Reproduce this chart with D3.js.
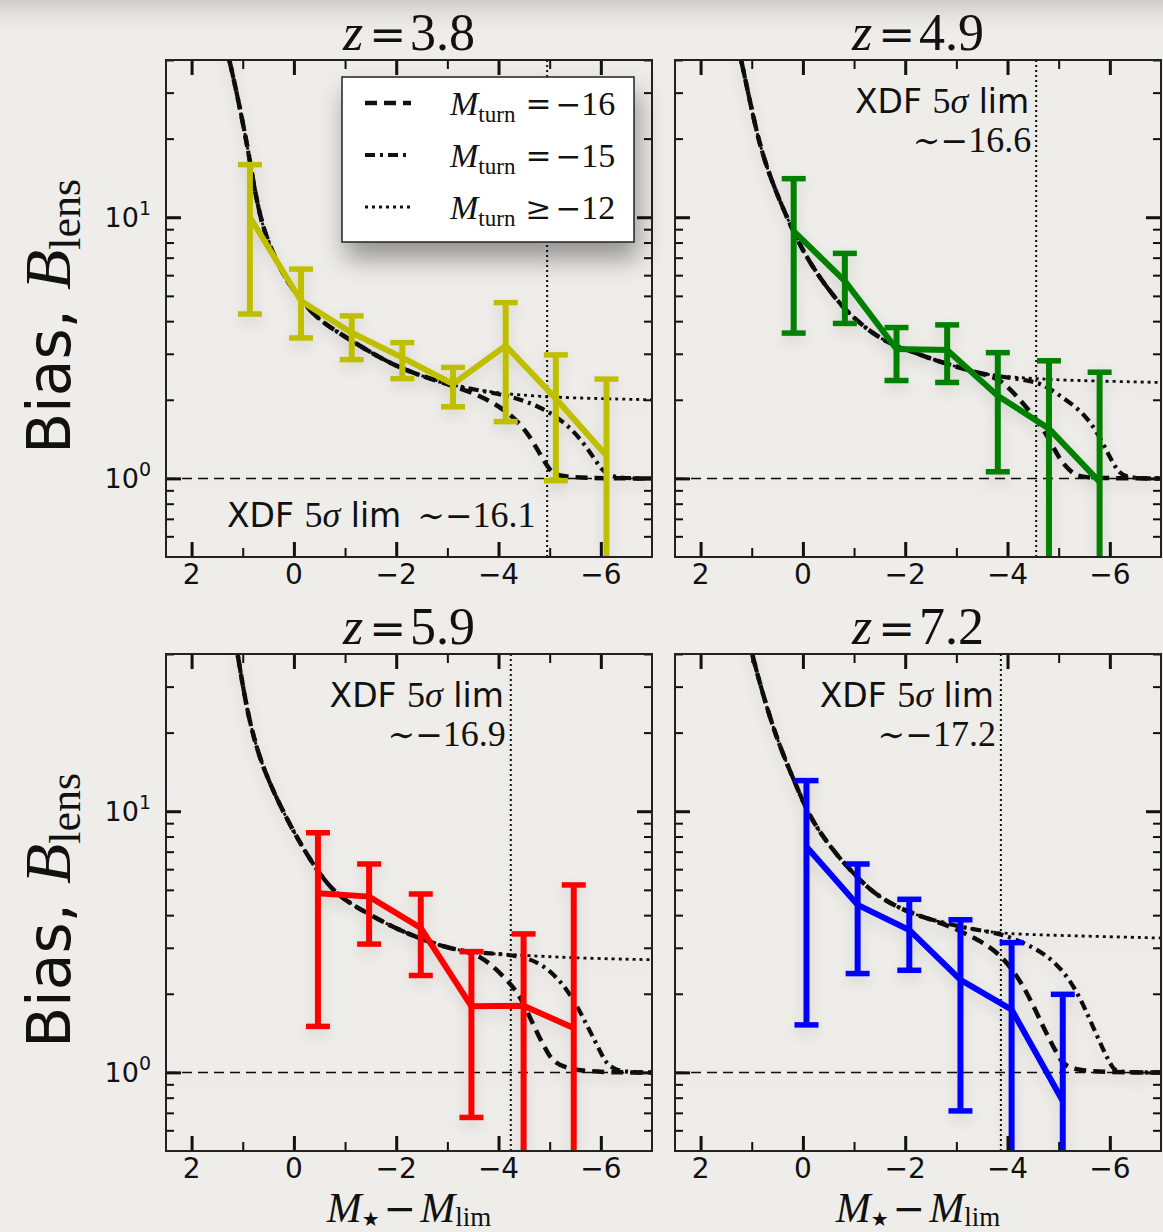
<!DOCTYPE html>
<html><head><meta charset="utf-8">
<script src="https://cdn.jsdelivr.net/npm/d3@7"></script>
<style>
html,body{margin:0;padding:0;background:#eeede9;}
svg{display:block}
</style></head><body>
<svg id="c" width="1163" height="1232"></svg>
<script>
// ================= DATA =================
const redshifts = ["3.8", "4.9", "5.9", "7.2"];
const xdfLimitX = [-4.95, -4.56, -4.24, -3.87];
const xdfLimitMag = ["16.1", "16.6", "16.9", "17.2"];

const xMajorTicks = [2, 0, -2, -4, -6];
const xMinorTicks = [1, -1, -3, -5];
const yMajorTicks = [1, 10];
const yMajorExp = ["0", "1"];
const yMinorTicks = [0.6, 0.7, 0.8, 0.9, 2, 3, 4, 5, 6, 7, 8, 9, 20, 30, 40];

const legendOps = ["=", "=", "\u2265"];
const legendVals = ["16", "15", "12"];

// z = 3.8 measurements
const z38_x  = [0.86, -0.14, -1.13, -2.12, -3.11, -4.14, -5.12, -6.11];
const z38_b  = [10.0, 4.78, 3.61, 2.90, 2.30, 3.22, 2.02, 1.22];
const z38_lo = [4.26, 3.45, 2.85, 2.41, 1.88, 1.65, 0.98, 0.2];
const z38_hi = [15.9, 6.33, 4.19, 3.31, 2.66, 4.71, 2.97, 2.40];
// z = 4.9
const z49_x  = [0.18, -0.82, -1.83, -2.82, -3.81, -4.81, -5.80];
const z49_b  = [8.85, 5.70, 3.13, 3.10, 2.07, 1.55, 0.97];
const z49_lo = [3.60, 3.92, 2.37, 2.33, 1.06, 0.2, 0.2];
const z49_hi = [14.05, 7.27, 3.78, 3.87, 3.03, 2.82, 2.55];
// z = 5.9
const z59_x  = [-0.47, -1.47, -2.48, -3.47, -4.49, -5.47];
const z59_b  = [4.85, 4.71, 3.57, 1.79, 1.80, 1.48];
const z59_lo = [1.50, 3.10, 2.35, 0.672, 0.2, 0.2];
const z59_hi = [8.27, 6.28, 4.82, 2.90, 3.39, 5.22];
// z = 7.2
const z72_x  = [-0.07, -1.07, -2.08, -3.08, -4.08, -5.08];
const z72_b  = [7.31, 4.38, 3.51, 2.26, 1.74, 0.777];
const z72_lo = [1.52, 2.39, 2.46, 0.712, 0.2, 0.2];
const z72_hi = [13.1, 6.28, 4.60, 3.84, 3.14, 1.99];

// model curves [x, B]
const z38_turn16 = [[1.45,55],[1.25,40],[0.92,19.5],[0.80,13.8],[0.66,10],[0.50,8.0],[0.35,6.9],[0.20,6.0],[0.02,5.3],[-0.18,4.7],[-0.51,4.0],[-1.04,3.45],[-1.54,3.0],[-2.07,2.65],[-2.60,2.43],[-3.11,2.26],[-3.63,2.08],[-4.16,1.82],[-4.55,1.52],[-4.80,1.25],[-5.0,1.07],[-5.2,1.0],[-7,1.0]];
const z38_turn15 = [[1.45,55],[1.25,40],[0.92,19.5],[0.80,13.8],[0.66,10],[0.50,8.0],[0.35,6.9],[0.20,6.0],[0.02,5.3],[-0.18,4.7],[-0.51,4.0],[-1.04,3.45],[-1.54,3.0],[-2.07,2.65],[-2.60,2.43],[-3.11,2.26],[-3.89,2.13],[-4.55,1.99],[-5.2,1.71],[-5.64,1.40],[-5.98,1.10],[-6.17,1.0],[-7,1.0]];
const z38_turn12 = [[1.45,55],[1.25,40],[0.92,19.5],[0.80,13.8],[0.66,10],[0.50,8.0],[0.35,6.9],[0.20,6.0],[0.02,5.3],[-0.18,4.7],[-0.51,4.0],[-1.04,3.45],[-1.54,3.0],[-2.07,2.65],[-2.60,2.43],[-3.11,2.26],[-3.89,2.13],[-4.94,2.04],[-7,2.0]];

const z49_turn16 = [[1.38,55],[1.20,40],[0.90,20.5],[0.64,14.1],[0.20,8.85],[-0.14,6.62],[-0.66,4.78],[-1.05,4.01],[-1.56,3.36],[-2.09,3.08],[-2.61,2.82],[-3.13,2.63],[-3.65,2.47],[-3.91,2.37],[-4.43,1.82],[-4.76,1.49],[-5.02,1.17],[-5.28,1.04],[-5.47,1.0],[-7,1.0]];
const z49_turn15 = [[1.38,55],[1.20,40],[0.90,20.5],[0.64,14.1],[0.20,8.85],[-0.14,6.62],[-0.66,4.78],[-1.05,4.01],[-1.56,3.36],[-2.09,3.08],[-2.61,2.82],[-3.13,2.63],[-3.65,2.47],[-4.56,2.37],[-4.88,2.17],[-5.54,1.77],[-5.87,1.36],[-6.13,1.07],[-6.32,1.0],[-7,1.0]];
const z49_turn12 = [[1.38,55],[1.20,40],[0.90,20.5],[0.64,14.1],[0.20,8.85],[-0.14,6.62],[-0.66,4.78],[-1.05,4.01],[-1.56,3.36],[-2.09,3.08],[-2.61,2.82],[-3.13,2.63],[-3.65,2.47],[-4.56,2.41],[-5.21,2.37],[-7,2.33]];

const z59_turn16 = [[1.22,55],[1.10,40],[0.90,23],[0.64,15.2],[0.32,11.0],[-0.01,8.22],[-0.40,6.13],[-0.79,4.85],[-1.31,4.19],[-1.96,3.57],[-2.61,3.17],[-3.13,2.95],[-3.65,2.84],[-4.17,2.26],[-4.43,1.96],[-4.69,1.50],[-4.95,1.19],[-5.21,1.0],[-7,1.0]];
const z59_turn15 = [[1.22,55],[1.10,40],[0.90,23],[0.64,15.2],[0.32,11.0],[-0.01,8.22],[-0.40,6.13],[-0.79,4.85],[-1.31,4.19],[-1.96,3.57],[-2.61,3.17],[-3.13,2.95],[-3.65,2.86],[-4.43,2.82],[-4.95,2.55],[-5.41,2.01],[-5.74,1.50],[-6.0,1.19],[-6.19,1.0],[-7,1.0]];
const z59_turn12 = [[1.22,55],[1.10,40],[0.90,23],[0.64,15.2],[0.32,11.0],[-0.01,8.22],[-0.40,6.13],[-0.79,4.85],[-1.31,4.19],[-1.96,3.57],[-2.61,3.17],[-3.13,2.95],[-3.65,2.86],[-4.30,2.82],[-5.47,2.74],[-7,2.70]];

const z72_turn16 = [[1.15,55],[1.0,40],[0.71,25.0],[0.45,17.6],[0.12,12.4],[-0.13,9.51],[-0.53,7.31],[-0.92,5.95],[-1.44,4.71],[-2.09,4.07],[-2.74,3.73],[-3.4,3.25],[-3.85,2.86],[-4.30,2.20],[-4.69,1.50],[-5.02,1.12],[-5.21,1.0],[-7,1.0]];
const z72_turn15 = [[1.15,55],[1.0,40],[0.71,25.0],[0.45,17.6],[0.12,12.4],[-0.13,9.51],[-0.53,7.31],[-0.92,5.95],[-1.44,4.71],[-2.09,4.07],[-2.74,3.73],[-3.39,3.51],[-3.85,3.41],[-4.43,3.08],[-4.95,2.66],[-5.35,2.07],[-5.61,1.59],[-5.87,1.22],[-6.06,1.03],[-6.15,1.0],[-7,1.0]];
const z72_turn12 = [[1.15,55],[1.0,40],[0.71,25.0],[0.45,17.6],[0.12,12.4],[-0.13,9.51],[-0.53,7.31],[-0.92,5.95],[-1.44,4.71],[-2.09,4.07],[-2.74,3.73],[-3.39,3.51],[-3.85,3.41],[-4.56,3.36],[-7,3.27]];

// ================= STYLE / LAYOUT =================
const panelColors = ["#bfbf00", "#008000", "#ff0000", "#0000ff"];
const panels = [
  {l:166, t:60,  x:z38_x, b:z38_b, lo:z38_lo, hi:z38_hi, m16:z38_turn16, m15:z38_turn15, m12:z38_turn12},
  {l:675, t:60,  x:z49_x, b:z49_b, lo:z49_lo, hi:z49_hi, m16:z49_turn16, m15:z49_turn15, m12:z49_turn12},
  {l:166, t:654, x:z59_x, b:z59_b, lo:z59_lo, hi:z59_hi, m16:z59_turn16, m15:z59_turn15, m12:z59_turn12},
  {l:675, t:654, x:z72_x, b:z72_b, lo:z72_lo, hi:z72_hi, m16:z72_turn16, m15:z72_turn15, m12:z72_turn12}
];
const PW = 486, PH = 497;
const SANS = "'DejaVu Sans', sans-serif";
const SERIF = "'Liberation Serif', 'DejaVu Serif', serif";
const OPS = "'DejaVu Serif', serif";
const INK = "#111";
const STY16 = {dash:"12,7", w:4.5};
const STY15 = {dash:"10,5,3,5", w:4.2};
const STY12 = {dash:"3,4", w:2.8};

const svg = d3.select("#c");
const defs = svg.append("defs");
const sh = defs.append("filter").attr("id","shadow").attr("x","-30%").attr("y","-30%").attr("width","160%").attr("height","190%");
sh.append("feDropShadow").attr("dx",4).attr("dy",16).attr("stdDeviation",13).attr("flood-color","#000").attr("flood-opacity",0.38);
const soft = defs.append("filter").attr("id","soft").attr("x","-10%").attr("y","-10%").attr("width","120%").attr("height","130%");
soft.append("feDropShadow").attr("dx",0).attr("dy",6).attr("stdDeviation",7).attr("flood-color","#000").attr("flood-opacity",0.12);
const grad = defs.append("linearGradient").attr("id","topgrad").attr("x1",0).attr("y1",0).attr("x2",0).attr("y2",1);
grad.append("stop").attr("offset","0").attr("stop-color","#cfcdc9");
grad.append("stop").attr("offset","1").attr("stop-color","#eeede9").attr("stop-opacity",0);

svg.append("rect").attr("width",1163).attr("height",1232).attr("fill","#eeede9");
svg.append("rect").attr("width",1163).attr("height",40).attr("fill","url(#topgrad)");

panels.forEach((p, i) => {
  const x = d3.scaleLinear().domain([2.5, -7]).range([p.l, p.l + PW]);
  const y = d3.scaleLog().domain([0.5, 40]).range([p.t + PH, p.t]);
  const g = svg.append("g");
  const clipId = "clip" + i;
  defs.append("clipPath").attr("id", clipId).append("rect")
    .attr("x", p.l).attr("y", p.t).attr("width", PW).attr("height", PH);

  const inner = g.append("g").attr("clip-path", `url(#${clipId})`);
  const plot = inner.append("g").attr("filter","url(#soft)");

  // horizontal B = 1 reference line
  plot.append("line").attr("x1", x(2.5)).attr("x2", x(-7)).attr("y1", y(1)).attr("y2", y(1))
    .attr("stroke", INK).attr("stroke-width", 1.5).attr("stroke-dasharray", "10,6");
  // XDF limit
  plot.append("line").attr("x1", x(xdfLimitX[i])).attr("x2", x(xdfLimitX[i])).attr("y1", y(0.5)).attr("y2", y(40))
    .attr("stroke", INK).attr("stroke-width", 2).attr("stroke-dasharray", "2,3");

  const line = d3.line().x(d => x(d[0])).y(d => y(d[1])).curve(d3.curveBasis);
  plot.append("path").attr("d", line(p.m12)).attr("fill","none").attr("stroke", INK)
    .attr("stroke-width", STY12.w).attr("stroke-dasharray", STY12.dash);
  plot.append("path").attr("d", line(p.m15)).attr("fill","none").attr("stroke", INK)
    .attr("stroke-width", STY15.w).attr("stroke-dasharray", STY15.dash);
  plot.append("path").attr("d", line(p.m16)).attr("fill","none").attr("stroke", INK)
    .attr("stroke-width", STY16.w).attr("stroke-dasharray", STY16.dash);

  // data with errorbars
  const col = panelColors[i];
  const pts = p.x.map((v, k) => ({x: v, b: p.b[k], lo: p.lo[k], hi: p.hi[k]}));
  const dl = d3.line().x(d => x(d.x)).y(d => y(d.b));
  plot.append("path").attr("d", dl(pts)).attr("fill","none").attr("stroke", col)
    .attr("stroke-width", 6).attr("stroke-linejoin","miter");
  const eb = plot.selectAll("g.eb").data(pts).join("g");
  eb.append("line").attr("x1", d => x(d.x)).attr("x2", d => x(d.x))
    .attr("y1", d => y(d.lo)).attr("y2", d => y(d.hi)).attr("stroke", col).attr("stroke-width", 6);
  eb.append("line").attr("x1", d => x(d.x) - 12).attr("x2", d => x(d.x) + 12)
    .attr("y1", d => y(d.hi)).attr("y2", d => y(d.hi)).attr("stroke", col).attr("stroke-width", 5.5);
  eb.append("line").attr("x1", d => x(d.x) - 12).attr("x2", d => x(d.x) + 12)
    .attr("y1", d => y(d.lo)).attr("y2", d => y(d.lo)).attr("stroke", col).attr("stroke-width", 5.5);

  // axes ticks
  const ax = g.append("g").attr("class","axes");
  const addAxis = (axis, tr, sw) => {
    const a = ax.append("g").attr("transform", tr).call(axis);
    a.select(".domain").remove();
    a.selectAll("line").attr("stroke", INK).attr("stroke-width", sw);
    a.selectAll("text").remove();
  };
  addAxis(d3.axisBottom(x).tickValues(xMajorTicks).tickSize(-15), `translate(0,${p.t+PH})`, 3);
  addAxis(d3.axisBottom(x).tickValues(xMinorTicks).tickSize(-9), `translate(0,${p.t+PH})`, 2);
  addAxis(d3.axisTop(x).tickValues(xMajorTicks).tickSize(-15), `translate(0,${p.t})`, 3);
  addAxis(d3.axisTop(x).tickValues(xMinorTicks).tickSize(-9), `translate(0,${p.t})`, 2);
  addAxis(d3.axisLeft(y).tickValues(yMajorTicks).tickSize(-15), `translate(${p.l},0)`, 3);
  addAxis(d3.axisLeft(y).tickValues(yMinorTicks).tickSize(-8), `translate(${p.l},0)`, 2);
  addAxis(d3.axisRight(y).tickValues(yMajorTicks).tickSize(-15), `translate(${p.l+PW},0)`, 3);
  addAxis(d3.axisRight(y).tickValues(yMinorTicks).tickSize(-8), `translate(${p.l+PW},0)`, 2);

  g.append("rect").attr("x", p.l).attr("y", p.t).attr("width", PW).attr("height", PH)
    .attr("fill","none").attr("stroke", "#222").attr("stroke-width", 2);

  // tick labels
  g.selectAll("text.xl").data(xMajorTicks).join("text")
    .attr("x", d => x(d)).attr("y", p.t + PH + 27).attr("text-anchor","middle")
    .attr("font-family", SANS).attr("font-size", 28).attr("fill", INK)
    .text(d => d < 0 ? "\u2212" + Math.abs(d) : String(d));
  if (i % 2 === 0) {
    yMajorTicks.forEach((v, k) => {
      const t = g.append("text").attr("x", p.l - 15).attr("y", y(v) + 10).attr("text-anchor","end")
        .attr("font-family", SANS).attr("font-size", 27).attr("fill", INK);
      t.append("tspan").text("10");
      t.append("tspan").attr("dy", -12).attr("font-size", 19).text(yMajorExp[k]);
    });
  }

  // title
  const tt = g.append("text").attr("x", p.l + PW/2).attr("y", p.t - 10).attr("text-anchor","middle")
    .attr("font-family", SERIF).attr("font-size", 52).attr("fill", INK);
  tt.append("tspan").attr("font-style","italic").text("z");
  tt.append("tspan").attr("font-family", OPS).attr("font-size", 44).attr("dx", 6).text("=");
  tt.append("tspan").attr("dx", 4).text(redshifts[i]);

  // XDF label parts
  const numTs = (t, gap) => {
    t.append("tspan").attr("font-family", OPS).attr("font-size", 33).attr("dx", gap).text("\u223c\u2212");
    t.append("tspan").attr("font-family", SERIF).attr("font-size", 36).text(xdfLimitMag[i]);
  };
  const xdfLabel = (tx, ty, anchor) => {
    const t = g.append("text").attr("x", tx).attr("y", ty).attr("text-anchor", anchor).attr("fill", INK).attr("font-size", 33);
    t.append("tspan").attr("font-family", SANS).text("XDF ");
    t.append("tspan").attr("font-family", SERIF).attr("font-size", 36).text("5");
    t.append("tspan").attr("font-family", SERIF).attr("font-size", 36).attr("font-style","italic").text("\u03c3");
    t.append("tspan").attr("font-family", SANS).text(" lim");
    return t;
  };
  if (i === 0) {
    const t = xdfLabel(227, p.t + PH - 30, "start");
    numTs(t, 16);
  } else {
    const xr = x(xdfLimitX[i]) - 7;
    xdfLabel(xr, p.t + 53, "end");
    const t2 = g.append("text").attr("x", xr + 2).attr("y", p.t + 92).attr("text-anchor","end").attr("fill", INK);
    numTs(t2, 0);
  }

  // y axis label (left column)
  if (i % 2 === 0) {
    const yl = g.append("text").attr("transform", `translate(70,${p.t + PH/2 + 8}) rotate(-90)`)
      .attr("text-anchor","middle").attr("fill", INK);
    yl.append("tspan").attr("font-family", SANS).attr("font-size", 60).text("Bias, ");
    yl.append("tspan").attr("font-family", SERIF).attr("font-style","italic").attr("font-size", 66).text("B");
    yl.append("tspan").attr("font-family", SERIF).attr("font-size", 44).attr("dy", 10).text("lens");
  }
  // x axis label (bottom row)
  if (i >= 2) {
    const xl = g.append("text").attr("x", p.l + PW/2).attr("y", 1222).attr("text-anchor","middle")
      .attr("fill", INK).attr("font-family", SERIF).attr("font-size", 42);
    xl.append("tspan").attr("font-style","italic").text("M");
    xl.append("tspan").attr("font-family", SANS).attr("font-size", 20).attr("dy", 4).text("\u2605");
    xl.append("tspan").attr("font-family", OPS).attr("font-size", 39).attr("dy", -4).attr("dx", 4).text("\u2212");
    xl.append("tspan").attr("font-style","italic").attr("dx", 4).text("M");
    xl.append("tspan").attr("font-size", 27).attr("dy", 4).text("lim");
  }

  // legend
  if (i === 0) {
    const lg = g.append("g");
    lg.append("rect").attr("x", 342).attr("y", 77).attr("width", 292).attr("height", 165)
      .attr("fill", "#fff").attr("stroke", "#222").attr("stroke-width", 1.5).attr("filter","url(#shadow)");
    const styles = [STY16, STY15, STY12];
    const rowsY = [103, 155, 207];
    legendOps.forEach((op, k) => {
      lg.append("line").attr("x1", 365).attr("x2", 411).attr("y1", rowsY[k]).attr("y2", rowsY[k])
        .attr("stroke", INK).attr("stroke-width", styles[k].w).attr("stroke-dasharray", styles[k].dash);
      const t = lg.append("text").attr("x", 450).attr("y", rowsY[k] + 12)
        .attr("font-family", SERIF).attr("font-size", 34).attr("fill", INK);
      t.append("tspan").attr("font-style","italic").text("M");
      t.append("tspan").attr("font-size", 23).attr("dy", 7).text("turn");
      t.append("tspan").attr("font-family", OPS).attr("font-size", 31).attr("dy", -7).attr("dx", 10).text(op);
      t.append("tspan").attr("font-family", OPS).attr("font-size", 31).attr("dx", 4).text("\u2212");
      t.append("tspan").text(legendVals[k]);
    });
  }
});
</script>
</body></html>
